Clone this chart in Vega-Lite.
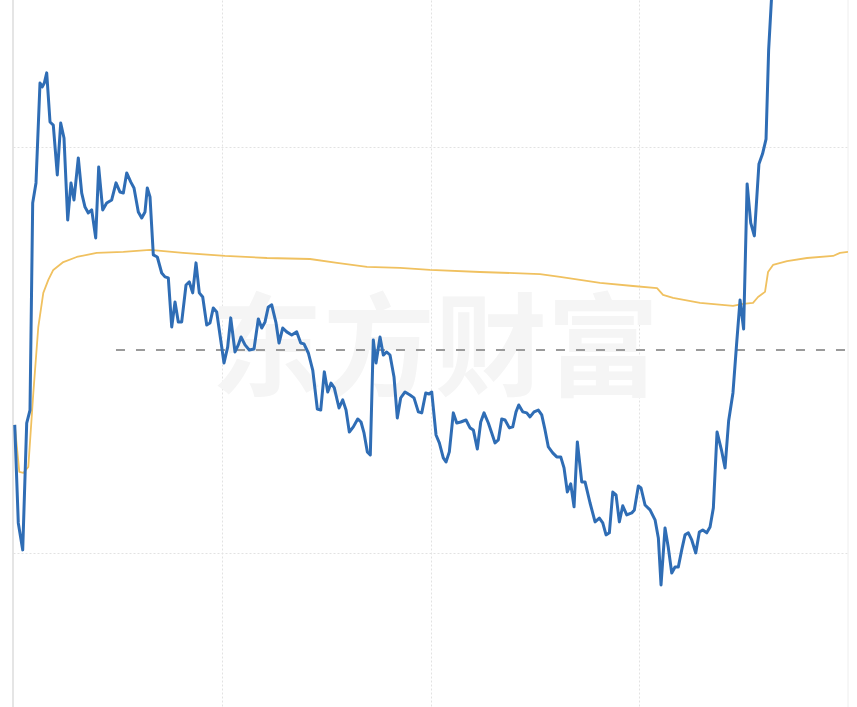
{
  "$schema": "https://vega.github.io/schema/vega-lite/v6.json",
  "width": 835,
  "height": 707,
  "autosize": {"type": "none"},
  "padding": {"left": 13, "right": 9, "top": 0, "bottom": 0},
  "background": "#ffffff",
  "config": {"view": {"stroke": null}},
  "datasets": {
    "price": [
      {"m":0.5,"v":-3.69},{"m":1.52,"v":-8.52},{"m":2.79,"v":-9.85},{"m":3.94,"v":-3.6},{"m":4.89,"v":-2.96},{"m":5.66,"v":7.24},{"m":6.61,"v":8.23},{"m":7.76,"v":13.15},{"m":8.42,"v":12.96},{"m":9.0,"v":13.15},{"m":9.69,"v":13.65},{"m":10.64,"v":11.23},{"m":11.58,"v":11.08},{"m":12.73,"v":8.62},{"m":13.71,"v":11.18},{"m":14.66,"v":10.44},{"m":15.72,"v":6.4},{"m":16.67,"v":8.23},{"m":17.53,"v":7.39},{"m":18.77,"v":9.46},{"m":19.75,"v":7.73},{"m":20.7,"v":7.04},{"m":21.64,"v":6.75},{"m":22.62,"v":6.9},{"m":23.77,"v":5.52},{"m":24.63,"v":9.01},{"m":25.78,"v":6.9},{"m":26.93,"v":7.24},{"m":28.37,"v":7.39},{"m":29.61,"v":8.23},{"m":30.76,"v":7.78},{"m":31.71,"v":7.73},{"m":32.68,"v":8.72},{"m":33.83,"v":8.28},{"m":34.78,"v":7.98},{"m":36.02,"v":6.8},{"m":37.0,"v":6.5},{"m":37.94,"v":6.8},{"m":38.6,"v":7.98},{"m":39.38,"v":7.54},{"m":40.33,"v":4.68},{"m":41.48,"v":4.58},{"m":42.74,"v":3.79},{"m":43.69,"v":3.6},{"m":44.64,"v":3.55},{"m":45.62,"v":1.13},{"m":46.57,"v":2.36},{"m":47.51,"v":1.38},{"m":48.49,"v":1.38},{"m":49.73,"v":3.2},{"m":50.68,"v":3.35},{"m":51.65,"v":2.81},{"m":52.6,"v":4.29},{"m":53.55,"v":2.81},{"m":54.53,"v":2.61},{"m":55.68,"v":1.23},{"m":56.62,"v":1.33},{"m":57.57,"v":2.07},{"m":58.55,"v":1.87},{"m":59.7,"v":0.49},{"m":60.65,"v":-0.64},{"m":61.71,"v":0.15},{"m":62.58,"v":1.58},{"m":63.81,"v":-0.1},{"m":64.76,"v":0.25},{"m":65.54,"v":0.64},{"m":66.69,"v":0.25},{"m":67.92,"v":0},{"m":69.27,"v":0.05},{"m":70.51,"v":1.53},{"m":71.49,"v":1.08},{"m":72.44,"v":1.38},{"m":73.38,"v":2.12},{"m":74.36,"v":2.22},{"m":75.6,"v":1.33},{"m":76.46,"v":0.34},{"m":77.52,"v":1.08},{"m":78.67,"v":0.89},{"m":80.11,"v":0.74},{"m":81.55,"v":0.89},{"m":82.7,"v":0.34},{"m":83.64,"v":0.3},{"m":84.88,"v":-0.15},{"m":86.15,"v":-0.99},{"m":87.47,"v":-2.91},{"m":88.45,"v":-2.96},{"m":89.48,"v":-1.08},{"m":90.46,"v":-2.07},{"m":91.41,"v":-1.63},{"m":92.35,"v":-1.87},{"m":93.71,"v":-2.86},{"m":94.77,"v":-2.46},{"m":95.72,"v":-2.96},{"m":96.67,"v":-4.04},{"m":97.82,"v":-3.79},{"m":99.08,"v":-3.4},{"m":100.03,"v":-3.55},{"m":100.89,"v":-4.09},{"m":101.84,"v":-5.02},{"m":102.7,"v":-5.17},{"m":103.56,"v":0.49},{"m":104.34,"v":-0.64},{"m":105.49,"v":0.64},{"m":106.44,"v":-0.25},{"m":107.42,"v":-0.1},{"m":108.36,"v":-0.25},{"m":109.51,"v":-1.33},{"m":110.46,"v":-3.35},{"m":111.44,"v":-2.36},{"m":112.68,"v":-2.07},{"m":114.11,"v":-2.22},{"m":115.26,"v":-2.36},{"m":116.5,"v":-3.05},{"m":117.48,"v":-3.1},{"m":118.63,"v":-2.12},{"m":119.57,"v":-2.17},{"m":120.35,"v":-2.07},{"m":121.59,"v":-4.19},{"m":122.54,"v":-4.58},{"m":123.68,"v":-5.32},{"m":124.46,"v":-5.52},{"m":125.41,"v":-5.02},{"m":126.56,"v":-3.1},{"m":127.54,"v":-3.6},{"m":128.69,"v":-3.55},{"m":130.21,"v":-3.45},{"m":131.36,"v":-3.84},{"m":132.31,"v":-3.94},{"m":133.46,"v":-4.88},{"m":134.44,"v":-3.55},{"m":135.39,"v":-3.1},{"m":136.62,"v":-3.6},{"m":137.6,"v":-4.09},{"m":138.55,"v":-4.58},{"m":139.5,"v":-4.43},{"m":140.47,"v":-3.4},{"m":141.42,"v":-3.45},{"m":142.66,"v":-3.84},{"m":143.64,"v":-3.79},{"m":144.58,"v":-3.05},{"m":145.36,"v":-2.71},{"m":146.51,"v":-3.05},{"m":147.66,"v":-3.1},{"m":148.61,"v":-3.3},{"m":149.76,"v":-3.05},{"m":150.99,"v":-2.96},{"m":151.97,"v":-3.2},{"m":152.92,"v":-3.94},{"m":153.87,"v":-4.78},{"m":155.13,"v":-5.07},{"m":156.28,"v":-5.27},{"m":157.43,"v":-5.27},{"m":158.38,"v":-5.81},{"m":159.33,"v":-7.0},{"m":160.31,"v":-6.6},{"m":161.26,"v":-7.73},{"m":162.21,"v":-4.53},{"m":163.47,"v":-6.5},{"m":164.42,"v":-6.5},{"m":165.86,"v":-7.54},{"m":167.3,"v":-8.47},{"m":168.53,"v":-8.28},{"m":169.51,"v":-8.52},{"m":170.46,"v":-9.11},{"m":171.41,"v":-9.01},{"m":172.39,"v":-7.0},{"m":173.33,"v":-7.14},{"m":174.28,"v":-8.47},{"m":175.26,"v":-7.68},{"m":176.41,"v":-8.13},{"m":177.84,"v":-8.03},{"m":178.59,"v":-7.88},{"m":179.74,"v":-6.7},{"m":180.51,"v":-6.8},{"m":181.66,"v":-7.64},{"m":183.1,"v":-7.88},{"m":184.54,"v":-8.37},{"m":185.49,"v":-9.26},{"m":186.26,"v":-11.58},{"m":187.41,"v":-8.77},{"m":188.36,"v":-9.75},{"m":189.34,"v":-10.99},{"m":190.29,"v":-10.69},{"m":191.23,"v":-10.69},{"m":192.21,"v":-9.85},{"m":193.16,"v":-9.11},{"m":194.11,"v":-9.01},{"m":195.09,"v":-9.36},{"m":196.24,"v":-10.0},{"m":197.27,"v":-8.97},{"m":198.25,"v":-8.87},{"m":199.4,"v":-9.01},{"m":200.35,"v":-8.72},{"m":201.3,"v":-7.78},{"m":202.36,"v":-4.04},{"m":203.63,"v":-4.93},{"m":204.66,"v":-5.81},{"m":205.69,"v":-3.5},{"m":206.93,"v":-2.12},{"m":207.94,"v":0.2},{"m":208.97,"v":2.46},{"m":210.0,"v":1.03},{"m":211.01,"v":8.18},{"m":212.04,"v":6.26},{"m":213.08,"v":5.62},{"m":214.4,"v":9.16},{"m":215.44,"v":9.66},{"m":216.44,"v":10.39},{"m":217.19,"v":14.78},{"m":217.99,"v":17.24},{"m":220,"v":19.0},{"m":225,"v":19.8},{"m":240,"v":20.0}
    ],
    "avg": [
      {"m":0.5,"v":-3.69},{"m":1.81,"v":-6.01},{"m":2.96,"v":-6.06},{"m":4.4,"v":-5.76},{"m":5.84,"v":-2.12},{"m":7.27,"v":1.13},{"m":8.71,"v":2.81},{"m":10.15,"v":3.45},{"m":11.58,"v":3.94},{"m":14.46,"v":4.33},{"m":18.31,"v":4.58},{"m":24.06,"v":4.78},{"m":31.71,"v":4.83},{"m":39.38,"v":4.93},{"m":48.86,"v":4.78},{"m":60.94,"v":4.63},{"m":73.01,"v":4.53},{"m":85.37,"v":4.48},{"m":93.13,"v":4.29},{"m":101.75,"v":4.09},{"m":111.24,"v":4.04},{"m":119.86,"v":3.94},{"m":134.23,"v":3.84},{"m":151.48,"v":3.74},{"m":157.23,"v":3.6},{"m":168.73,"v":3.3},{"m":178.21,"v":3.15},{"m":185.11,"v":3.05},{"m":186.84,"v":2.71},{"m":189.71,"v":2.56},{"m":197.47,"v":2.32},{"m":206.96,"v":2.17},{"m":209.83,"v":2.27},{"m":212.7,"v":2.32},{"m":214.14,"v":2.61},{"m":216.15,"v":2.86},{"m":217.02,"v":3.84},{"m":218.45,"v":4.19},{"m":222.48,"v":4.38},{"m":228.22,"v":4.53},{"m":235.7,"v":4.63},{"m":237.71,"v":4.78},{"m":240,"v":4.83}
    ]
  },
  "encoding": {
    "x": {"field": "m", "type": "quantitative", "scale": {"domain": [0, 240], "nice": false, "zero": false},
          "axis": {"title": null, "labels": false, "ticks": false, "domain": false, "grid": true, "values": [60, 120, 180], "gridColor": "#e2e2e2", "gridDash": [2, 2], "gridWidth": 1}},
    "y": {"field": "v", "type": "quantitative", "scale": {"domain": [-17.59, 17.24], "nice": false, "zero": false},
          "axis": {"title": null, "labels": false, "ticks": false, "domain": false, "grid": true, "values": [-10, 10], "gridColor": "#e2e2e2", "gridDash": [2, 2], "gridWidth": 1}}
  },
  "layer": [
    {
      "data": {"values": [{"label": "东方财富", "m": 121.3, "v": -0.2}]},
      "mark": {"type": "text", "font": "Noto Sans CJK SC", "fontWeight": "bold", "fontSize": 112, "color": "#f5f5f5", "align": "center", "baseline": "middle"},
      "encoding": {"text": {"field": "label"}}
    },
    {
      "data": {"values": [{"m": 0}]},
      "mark": {"type": "rule", "color": "#dcdcdc", "strokeWidth": 1.5},
      "encoding": {"y": {"value": 0}, "y2": {"value": 707}}
    },
    {
      "data": {"values": [{"m": 240}]},
      "mark": {"type": "rule", "color": "#eeeeee", "strokeWidth": 1},
      "encoding": {"y": {"value": 0}, "y2": {"value": 707}}
    },
    {
      "data": {"values": [{"m": 29.6, "m2": 240, "v": 0}]},
      "mark": {"type": "rule", "color": "#9a9a9a", "strokeWidth": 2, "strokeDash": [9, 11]},
      "encoding": {"x2": {"field": "m2"}}
    },
    {
      "data": {"name": "avg"},
      "mark": {"type": "line", "color": "#f0c160", "strokeWidth": 1.8, "clip": true, "strokeJoin": "round"}
    },
    {
      "data": {"name": "price"},
      "mark": {"type": "line", "color": "#2f6db5", "strokeWidth": 3, "clip": true, "strokeJoin": "round"}
    }
  ]
}
